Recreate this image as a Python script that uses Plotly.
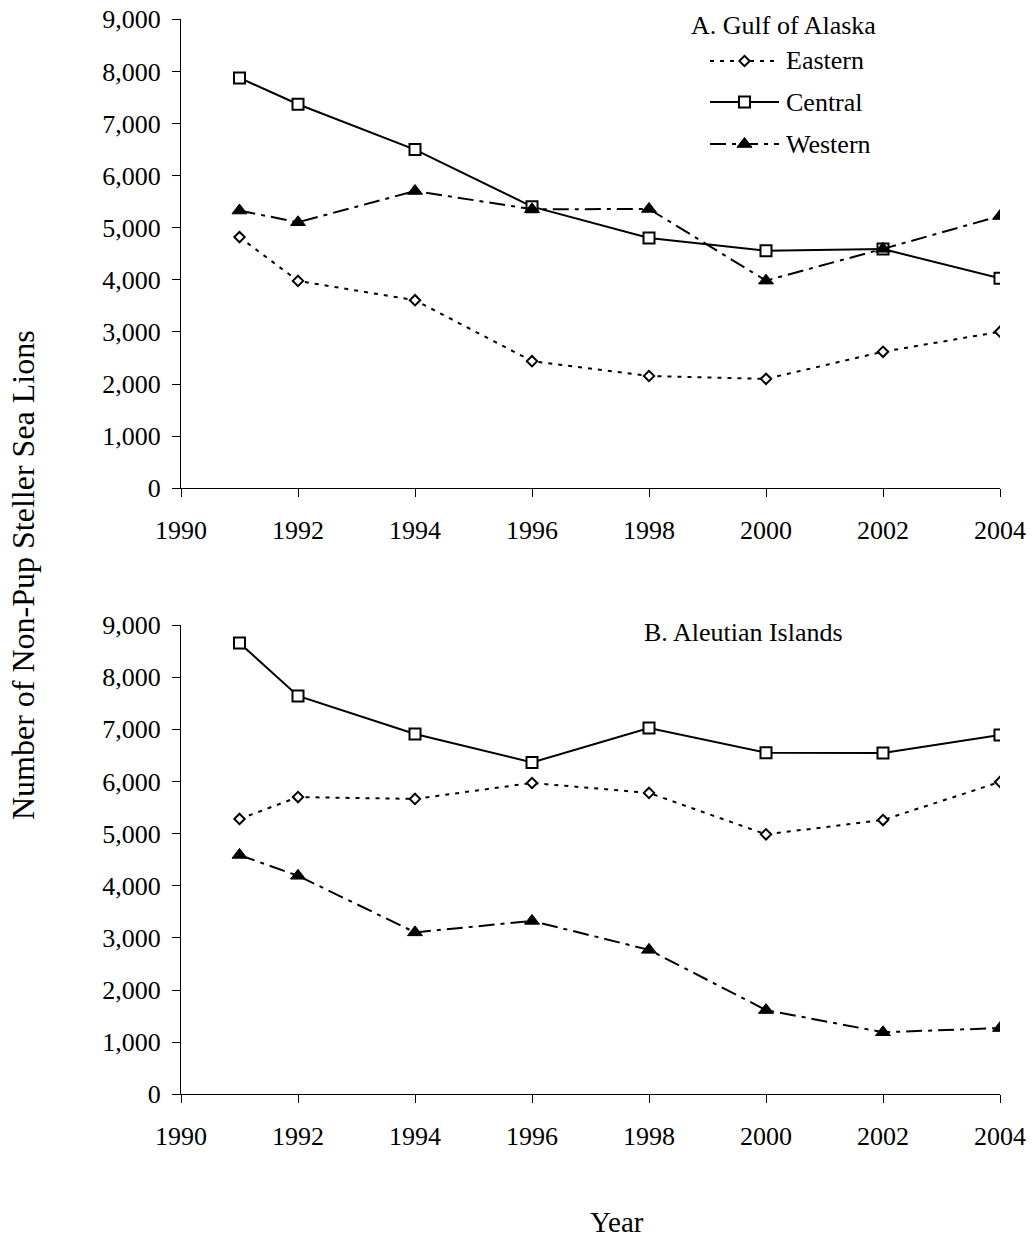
import plotly.graph_objects as go

# Survey years and non-pup counts of Steller sea lions by region
years = [1991, 1992, 1994, 1996, 1998, 2000, 2002, 2004]

gulf_eastern = [4820, 3980, 3610, 2440, 2155, 2100, 2620, 3005]
gulf_central = [7875, 7370, 6500, 5405, 4805, 4560, 4590, 4030]
gulf_western = [5330, 5105, 5705, 5355, 5360, 3985, 4595, 5225]

aleut_eastern = [5280, 5700, 5665, 5970, 5780, 4985, 5260, 5990]
aleut_central = [8655, 7640, 6910, 6365, 7025, 6550, 6545, 6890]
aleut_western = [4590, 4190, 3105, 3325, 2770, 1615, 1190, 1270]

series_names = ["Eastern", "Central", "Western"]
year_ticks = [1990, 1992, 1994, 1996, 1998, 2000, 2002, 2004]
count_ticks = [0, 1000, 2000, 3000, 4000, 5000, 6000, 7000, 8000, 9000]

W, H = 1032, 1241
FONT = "Liberation Serif"

STYLES = {
    "Eastern": dict(dash="4px,6px", width=2,
                    marker=dict(symbol="diamond", size=8, color="white",
                                line=dict(color="black", width=2))),
    "Central": dict(dash="solid", width=2,
                    marker=dict(symbol="square", size=11, color="white",
                                line=dict(color="black", width=2))),
    "Western": dict(dash="16px,6px,4px,6px", width=2,
                    marker=dict(symbol="triangle-up", size=13, color="black",
                                line=dict(color="black", width=1))),
}

fig = go.Figure()

panels = [
    ("x", "y", [gulf_eastern, gulf_central, gulf_western]),
    ("x2", "y2", [aleut_eastern, aleut_central, aleut_western]),
]
for xa, ya, values in panels:
    for name, vals in zip(series_names, values):
        st = STYLES[name]
        fig.add_trace(go.Scatter(
            x=years, y=vals, mode="lines+markers", name=name,
            xaxis=xa, yaxis=ya, showlegend=False,
            line=dict(color="black", width=st["width"], dash=st["dash"]),
            marker=st["marker"],
        ))

# Legend keys for the upper panel, drawn on a pixel-scaled overlay axis
LEG_X0, LEG_X1 = 710, 779
LEG_ROWS = {"Eastern": 61, "Central": 102, "Western": 144}
for name in series_names:
    st = STYLES[name]
    yy = LEG_ROWS[name]
    fig.add_trace(go.Scatter(
        x=[LEG_X0, LEG_X1], y=[yy, yy], mode="lines", xaxis="x3", yaxis="y3",
        showlegend=False, hoverinfo="skip",
        line=dict(color="black", width=st["width"], dash=st["dash"]),
    ))
    fig.add_trace(go.Scatter(
        x=[(LEG_X0 + LEG_X1) / 2], y=[yy], mode="markers", xaxis="x3", yaxis="y3",
        showlegend=False, hoverinfo="skip", marker=st["marker"],
    ))

x0, x1 = 181 / W, 1000 / W
top_dom = [1 - 488.3 / H, 1 - 19.3 / H]
bot_dom = [1 - 1094.3 / H, 1 - 625 / H]

xcommon = dict(range=[1990, 2004], tickvals=year_ticks, ticks="outside", ticklen=8,
               tickwidth=1, tickcolor="black", showline=True, linecolor="black",
               linewidth=1, showgrid=False, zeroline=False, ticklabelstandoff=10,
               automargin=False,
               tickfont=dict(family=FONT, size=26, color="black"))
ycommon = dict(range=[0, 9000], tickvals=count_ticks, tickformat=",d", ticks="outside",
               ticklen=8, tickwidth=1, tickcolor="black", showline=True,
               linecolor="black", linewidth=1, showgrid=False, zeroline=False,
               ticklabelstandoff=6, automargin=False,
               tickfont=dict(family=FONT, size=26, color="black"))

fig.update_layout(
    width=W, height=H,
    margin=dict(l=0, r=0, t=0, b=0, pad=0, autoexpand=False),
    paper_bgcolor="white", plot_bgcolor="rgba(0,0,0,0)",
    showlegend=False,
    font=dict(family=FONT, color="black"),
    xaxis=dict(domain=[x0, x1], anchor="y", **xcommon),
    yaxis=dict(domain=top_dom, anchor="x", **ycommon),
    xaxis2=dict(domain=[x0, x1], anchor="y2", **xcommon),
    yaxis2=dict(domain=bot_dom, anchor="x2", **ycommon),
    xaxis3=dict(domain=[0, 1], range=[0, W], anchor="y3", visible=False,
                fixedrange=True, automargin=False),
    yaxis3=dict(domain=[0, 1], range=[H, 0], anchor="x3", visible=False,
                fixedrange=True, automargin=False),
)

ann = [
    dict(text="A. Gulf of Alaska", x=783 / W, y=1 - 26 / H, size=26),
    dict(text="B. Aleutian Islands", x=743 / W, y=1 - 632 / H, size=26),
    dict(text="Year", x=617 / W, y=1 - 1222 / H, size=29),
]
for a in ann:
    fig.add_annotation(text=a["text"], x=a["x"], y=a["y"], xref="paper", yref="paper",
                       xanchor="center", yanchor="middle", showarrow=False, borderpad=0,
                       font=dict(family=FONT, size=a["size"], color="black"))
for name in series_names:
    fig.add_annotation(text=name, x=784 / W, y=1 - LEG_ROWS[name] / H,
                       xref="paper", yref="paper", xanchor="left", yanchor="middle",
                       showarrow=False, font=dict(family=FONT, size=26, color="black"))

fig.add_annotation(text="Number of Non-Pup Steller Sea Lions", textangle=-90,
                   x=23 / W, y=1 - 575 / H, xref="paper", yref="paper",
                   xanchor="center", yanchor="middle", showarrow=False,
                   font=dict(family=FONT, size=32, color="black"))

fig.write_html("out.html")
